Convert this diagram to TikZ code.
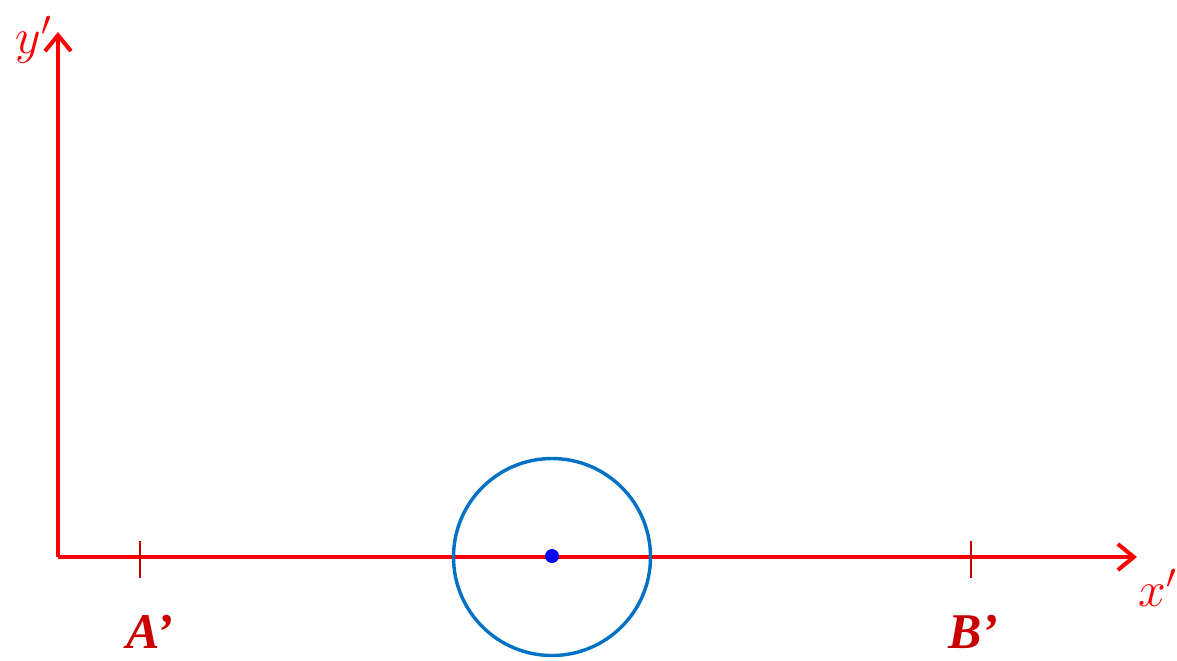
\documentclass[tikz,border=0pt]{standalone}
\usepackage{fontspec}
\newfontfamily\lblfont{Liberation Serif}
\usetikzlibrary{arrows.meta}
\definecolor{axred}{RGB}{255,0,0}
\definecolor{tickred}{RGB}{200,0,0}
\definecolor{circblue}{RGB}{0,114,198}
\definecolor{dotblue}{RGB}{0,0,240}
\tikzset{
  axis/.style={draw=axred, line width=2pt, -{Straight Barb[length=8pt,width=13pt,line width=2pt]}},
  tickmark/.style={draw=tickred, line width=0.9pt},
  ptlabel/.style={text=tickred, font=\lblfont\bfseries\itshape\fontsize{25}{28}\selectfont},
  axlabel/.style={text=axred, font=\fontsize{24}{28}\selectfont},
}
\begin{document}
\begin{tikzpicture}[x=0.5pt,y=-0.5pt]
\useasboundingbox (0,0) rectangle (1177,660);
\coordinate (O) at (58,557);
\coordinate (Ytip) at (58,32);
\coordinate (Xtip) at (1137,557);
\coordinate (Atop) at (140,541);
\coordinate (Abot) at (140,578);
\coordinate (Btop) at (971,541);
\coordinate (Bbot) at (971,578);
\draw[axis] (O) -- (Ytip);
\draw[axis] (O) -- (Xtip);
\draw[tickmark] (Atop) -- (Abot);
\draw[tickmark] (Btop) -- (Bbot);
\node[circle, draw=circblue, line width=1.7pt, minimum size=98.5pt, inner sep=0pt] (circ) at (552,557) {};
\node[circle, fill=dotblue, minimum size=7pt, inner sep=0pt] (dot) at (552,556) {};
\node[axlabel] (ylab) at (34,40) {$y'$};
\node[axlabel] (xlab) at (1158,588) {$x'$};
\node[ptlabel] (alab) at (150,632) {A’};
\node[ptlabel] (blab) at (973,632) {B’};
\end{tikzpicture}
\end{document}
